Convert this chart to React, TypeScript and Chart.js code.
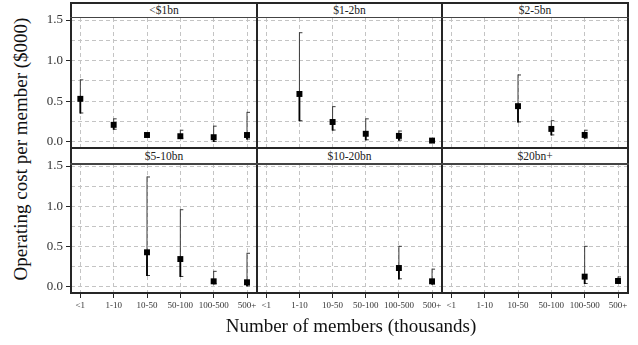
import React, { useEffect, useRef } from 'react';
import { Chart, registerables } from 'chart.js';

Chart.register(...registerables);

// ---------- data ----------
const sizeCategories = ['<1', '1-10', '10-50', '50-100', '100-500', '500+'];
const fundSizeLabels = ['<$1bn', '$1-2bn', '$2-5bn', '$5-10bn', '$10-20bn', '$20bn+'];
const yTickValues = [0, 0.25, 0.5, 0.75, 1, 1.25, 1.5];

const medianLt1bn = [0.53, 0.21, 0.085, 0.07, 0.058, 0.085];
const lowLt1bn = [0.35, 0.15, 0.078, 0.04, 0.0, 0.03];
const highLt1bn = [0.77, 0.29, 0.092, 0.15, 0.2, 0.37];

const median1to2bn = [null, 0.59, 0.245, 0.1, 0.074, 0.016];
const low1to2bn = [null, 0.255, 0.14, 0.02, 0.016, 0.012];
const high1to2bn = [null, 1.35, 0.44, 0.29, 0.14, 0.02];

const median2to5bn = [null, null, 0.44, 0.16, 0.086, null];
const low2to5bn = [null, null, 0.24, 0.08, 0.04, null];
const high2to5bn = [null, null, 0.83, 0.267, 0.15, null];

const median5to10bn = [null, null, 0.43, 0.346, 0.07, 0.058];
const low5to10bn = [null, null, 0.136, 0.124, 0.033, 0.008];
const high5to10bn = [null, null, 1.37, 0.964, 0.2, 0.424];

const median10to20bn = [null, null, null, null, 0.235, 0.07];
const low10to20bn = [null, null, null, null, 0.095, 0.029];
const high10to20bn = [null, null, null, null, 0.51, 0.227];

const median20bnPlus = [null, null, null, null, 0.128, 0.074];
const low20bnPlus = [null, null, null, null, 0.037, 0.04];
const high20bnPlus = [null, null, null, null, 0.51, 0.13];

const panelMedians = [medianLt1bn, median1to2bn, median2to5bn, median5to10bn, median10to20bn, median20bnPlus];
const panelLows = [lowLt1bn, low1to2bn, low2to5bn, low5to10bn, low10to20bn, low20bnPlus];
const panelHighs = [highLt1bn, high1to2bn, high2to5bn, high5to10bn, high10to20bn, high20bnPlus];

// ---------- layout ----------
const FONT = "'Liberation Serif', 'DejaVu Serif', serif";
const COL_LEFT = [71, 257, 442];
const COL_RIGHT = [257, 442, 628];
const ROW_STRIP_TOP = [3, 148];
const ROW_PLOT_TOP = [18, 164];
const ROW_PLOT_BOTTOM = [148, 293];
const Y_AXIS_W = 36;
const X_AXIS_H = 30;
const PAD_TOP = 8;
const PAD_BOTTOM = 4;
const GRID_COLOR = '#c4c4c4';
const LINE_COLOR = '#262626';

const errorBarPlugin = {
  id: 'errorBars',
  beforeDatasetsDraw(chart: any, _args: any, opts: any) {
    const { ctx } = chart;
    const xs = chart.scales.x;
    const ys = chart.scales.y;
    const med = opts.median as (number | null)[];
    const lo = opts.low as (number | null)[];
    const hi = opts.high as (number | null)[];
    ctx.save();
    for (let i = 0; i < med.length; i++) {
      if (med[i] == null || lo[i] == null || hi[i] == null) continue;
      const px = xs.getPixelForValue(i);
      const pl = ys.getPixelForValue(lo[i]);
      const ph = ys.getPixelForValue(hi[i]);
      const pm = ys.getPixelForValue(med[i]);
      ctx.strokeStyle = '#3a3a3a';
      ctx.lineWidth = 1;
      ctx.beginPath();
      ctx.moveTo(px, ph);
      ctx.lineTo(px, pl);
      ctx.moveTo(px, ph + 0.5);
      ctx.lineTo(px + 3, ph + 0.5);
      ctx.moveTo(px, pl - 0.5);
      ctx.lineTo(px + 3, pl - 0.5);
      ctx.stroke();
      ctx.strokeStyle = '#000';
      ctx.lineWidth = 1.8;
      ctx.beginPath();
      ctx.moveTo(px, pm);
      ctx.lineTo(px, pl);
      ctx.stroke();
    }
    ctx.restore();
  },
};

const isMajor = (v: number) => Math.abs(v * 2 - Math.round(v * 2)) < 1e-9;

const zeroPadding = (s: any) => {
  s.paddingTop = 0;
  s.paddingBottom = 0;
  s.paddingLeft = 0;
  s.paddingRight = 0;
};

function Panel({ index }: { index: number }) {
  const ref = useRef<HTMLCanvasElement>(null);
  const col = index % 3;
  const row = Math.floor(index / 3);
  const showY = col === 0;
  const showX = row === 1;
  const plotW = COL_RIGHT[col] - COL_LEFT[col];
  const plotH = ROW_PLOT_BOTTOM[row] - ROW_PLOT_TOP[row];
  const padTop = showY ? PAD_TOP : 0;
  const padBottom = showY && !showX ? PAD_BOTTOM : 0;
  const w = plotW + (showY ? Y_AXIS_W : 0);
  const h = plotH + (showX ? X_AXIS_H : 0) + padTop + padBottom;

  useEffect(() => {
    const medians = panelMedians[index];
    const points = sizeCategories
      .map((_, i) => ({ x: i, y: medians[i] }))
      .filter((p) => p.y != null);
    const chart = new Chart(ref.current as HTMLCanvasElement, {
      type: 'scatter',
      data: {
        datasets: [
          {
            data: points as any,
            pointStyle: 'rect',
            pointRadius: 4.2,
            backgroundColor: '#000',
            borderColor: '#000',
            borderWidth: 0,
          },
        ],
      },
      options: {
        animation: false,
        responsive: false,
        events: [],
        layout: { padding: { top: padTop, bottom: padBottom, left: 0, right: 0 }, autoPadding: false },
        plugins: {
          legend: { display: false },
          tooltip: { enabled: false },
          title: { display: false },
          errorBars: { median: medians, low: panelLows[index], high: panelHighs[index] },
        } as any,
        scales: {
          x: {
            type: 'linear',
            min: -0.28,
            max: 5.3,
            afterBuildTicks: (s: any) => {
              s.ticks = sizeCategories.map((_, i) => ({ value: i }));
            },
            afterFit: (s: any) => {
              s.height = showX ? X_AXIS_H : 0;
              zeroPadding(s);
            },
            ticks: {
              display: showX,
              autoSkip: false,
              maxRotation: 0,
              padding: 2,
              color: '#333',
              font: { family: FONT, size: 9 },
              callback: (v: any) => sizeCategories[v as number],
            },
            grid: {
              color: GRID_COLOR,
              lineWidth: 1,
              drawTicks: showX,
              tickLength: 5,
              tickColor: LINE_COLOR,
              tickWidth: 1,
              tickBorderDash: [],
            },
            border: { display: false, dash: [4, 3] },
          },
          y: {
            type: 'linear',
            min: -0.075,
            max: 1.525,
            afterBuildTicks: (s: any) => {
              s.ticks = yTickValues.map((v) => ({ value: v }));
            },
            afterFit: (s: any) => {
              s.width = showY ? Y_AXIS_W : 0;
              zeroPadding(s);
            },
            ticks: {
              display: showY,
              padding: 3,
              color: '#333',
              font: { family: FONT, size: 13 },
              callback: (v: any) => (isMajor(v as number) ? (v as number).toFixed(1) : ''),
            },
            grid: {
              color: GRID_COLOR,
              lineWidth: 1,
              drawTicks: showY,
              tickLength: 5,
              tickWidth: 1,
              tickBorderDash: [],
              tickColor: (ctx: any) =>
                ctx.tick && isMajor(ctx.tick.value) ? LINE_COLOR : 'rgba(0,0,0,0)',
            },
            border: { display: false, dash: [4, 3] },
          },
        },
      },
      plugins: [errorBarPlugin as any],
    });
    return () => chart.destroy();
  }, [index]);

  return (
    <canvas
      ref={ref}
      width={w}
      height={h}
      style={{
        position: 'absolute',
        left: COL_LEFT[col] - (showY ? Y_AXIS_W : 0),
        top: ROW_PLOT_TOP[row] - padTop,
        width: w,
        height: h,
      }}
    />
  );
}

export default function App() {
  const vLines = [71, 257, 442, 628];
  const hLines = [3, 17.7, 147.7, 164, 293];
  return (
    <div
      style={{
        position: 'fixed',
        left: 0,
        top: 0,
        width: 638,
        height: 345,
        background: '#fff',
        fontFamily: FONT,
        overflow: 'hidden',
      }}
    >
      {fundSizeLabels.map((_, i) => (
        <Panel key={'p' + i} index={i} />
      ))}
      {fundSizeLabels.map((label, i) => {
        const col = i % 3;
        const row = Math.floor(i / 3);
        return (
          <div
            key={'s' + i}
            style={{
              position: 'absolute',
              left: COL_LEFT[col],
              top: ROW_STRIP_TOP[row],
              width: COL_RIGHT[col] - COL_LEFT[col],
              height: ROW_PLOT_TOP[row] - ROW_STRIP_TOP[row],
              lineHeight: ROW_PLOT_TOP[row] - ROW_STRIP_TOP[row] + 'px',
              textAlign: 'center',
              fontSize: 11.5,
              color: '#222',
              background: '#fff',
            }}
          >
            {label}
          </div>
        );
      })}
      {vLines.map((x, i) => (
        <div
          key={'v' + i}
          style={{ position: 'absolute', left: x - 1, top: 2, width: 2, height: 292, background: LINE_COLOR }}
        />
      ))}
      {hLines.map((y, i) => (
        <div
          key={'h' + i}
          style={{
            position: 'absolute',
            left: 70,
            top: y - 1,
            width: 559,
            height: i === 1 || i === 3 ? 1.5 : 2,
            background: i === 1 || i === 3 ? '#444' : LINE_COLOR,
          }}
        />
      ))}
      <div
        style={{
          position: 'absolute',
          left: 21 - 160,
          top: 148.5 - 11,
          width: 320,
          height: 22,
          lineHeight: '22px',
          textAlign: 'center',
          whiteSpace: 'nowrap',
          fontSize: 19,
          color: '#111',
          transform: 'rotate(-90deg)',
        }}
      >
        Operating cost per member ($000)
      </div>
      <div
        style={{
          position: 'absolute',
          left: 351 - 200,
          top: 326 - 12,
          width: 400,
          height: 24,
          lineHeight: '24px',
          textAlign: 'center',
          whiteSpace: 'nowrap',
          fontSize: 19,
          color: '#111',
        }}
      >
        Number of members (thousands)
      </div>
    </div>
  );
}
